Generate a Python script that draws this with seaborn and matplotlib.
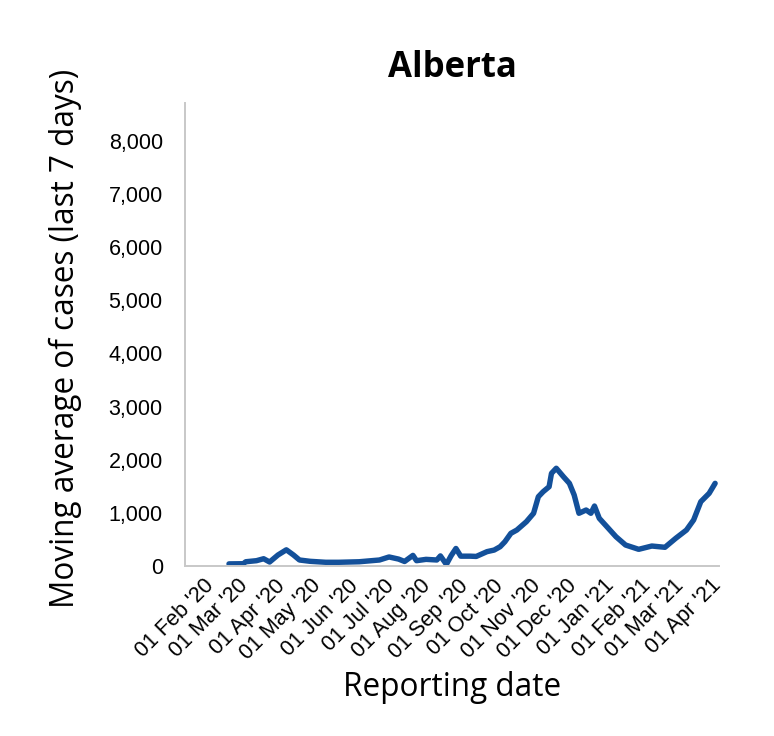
import matplotlib
matplotlib.use("Agg")
import matplotlib.pyplot as plt
import matplotlib.dates as mdates
import matplotlib.transforms as mtransforms
import seaborn as sns
import pandas as pd

dates = ["2020-03-08", "2020-03-20", "2020-03-22", "2020-03-31", "2020-04-06", "2020-04-11",
         "2020-04-18", "2020-04-25", "2020-05-01", "2020-05-06", "2020-05-15", "2020-05-28",
         "2020-06-08", "2020-06-25", "2020-07-12", "2020-07-20", "2020-07-28", "2020-08-02",
         "2020-08-09", "2020-08-12", "2020-08-20", "2020-08-29", "2020-09-01", "2020-09-06",
         "2020-09-10", "2020-09-14", "2020-09-18", "2020-09-26", "2020-10-01", "2020-10-10",
         "2020-10-16", "2020-10-21", "2020-10-25", "2020-10-30", "2020-11-04", "2020-11-12",
         "2020-11-18", "2020-11-22", "2020-11-26", "2020-12-01", "2020-12-03", "2020-12-07",
         "2020-12-13", "2020-12-18", "2020-12-22", "2020-12-26", "2021-01-01", "2021-01-05",
         "2021-01-08", "2021-01-12", "2021-01-20", "2021-01-26", "2021-02-03", "2021-02-14",
         "2021-02-25", "2021-03-08", "2021-03-17", "2021-03-26", "2021-04-01", "2021-04-07",
         "2021-04-14", "2021-04-19"]
cases = [40, 43, 80, 100, 137, 75,
         207, 305, 207, 113, 88, 70,
         70, 80, 113, 170, 130, 85,
         200, 100, 125, 113, 190, 30,
         195, 330, 185, 185, 180, 270,
         300, 363, 457, 615, 677, 834,
         992, 1304, 1398, 1492, 1744, 1840,
         1681, 1556, 1336, 992, 1054, 992,
         1129, 898, 700, 551, 395, 314,
         376, 352, 521, 677, 866, 1210,
         1368, 1556]
y_ticks = [0, 1000, 2000, 3000, 4000, 5000, 6000, 7000, 8000]
x_tick_dates = pd.date_range("2020-02-01", "2021-04-01", freq="MS")

title = "Alberta"
x_label = "Reporting date"
y_label = "Moving average of cases (last 7 days)"

df = pd.DataFrame({"date": pd.to_datetime(dates), "cases": cases})

sns.set_style("white")
plt.rcParams["font.family"] = ["Liberation Sans", "DejaVu Sans"]
plt.rcParams["text.color"] = "black"

W, H = 774, 736
fig = plt.figure(figsize=(W / 100, H / 100), dpi=100)
x0, x1, y0, y1 = 185, 719.3, 103, 566
ax = fig.add_axes([x0 / W, 1 - y1 / H, (x1 - x0) / W, (y1 - y0) / H])

line_color = "#13509a"
sns.lineplot(data=df, x="date", y="cases", ax=ax, color=line_color, linewidth=3.9)

xmin = pd.Timestamp("2020-02-01") - pd.Timedelta(hours=20)
xmax = pd.Timestamp("2021-04-22 12:00")
ax.set_xlim(xmin, xmax)
ax.set_ylim(0, 8715)

grey = "#c8c8c8"
for s in ["top", "right"]:
    ax.spines[s].set_visible(False)
for s in ["left", "bottom"]:
    ax.spines[s].set_color(grey)
    ax.spines[s].set_linewidth(1.4)

ax.set_yticks(y_ticks)
ax.set_yticklabels([f"{v:,}" for v in y_ticks])
ax.set_yticks([8715], minor=True)
ax.set_xticks(x_tick_dates)
ax.set_xticklabels([d.strftime("%d %b '%y") for d in x_tick_dates])
ax.set_xticks([xmax], minor=True)
ax.tick_params(which="both", axis="both", direction="out", length=8, width=1.4,
               color=grey, labelsize=15.5, labelcolor="black")
ax.tick_params(axis="y", pad=8)
ax.tick_params(axis="x", which="major", pad=3)
ax.tick_params(which="minor", labelleft=False, labelbottom=False)

offset = mtransforms.ScaledTranslation(17 / 100, 6 / 100, fig.dpi_scale_trans)
for lbl in ax.get_xticklabels():
    lbl.set_rotation(45)
    lbl.set_ha("right")
    lbl.set_va("top")
    lbl.set_rotation_mode("anchor")
    lbl.set_transform(lbl.get_transform() + offset)

ax.set_xlabel("")
ax.set_ylabel("")
fig.text((x0 + x1) / 2 / W, 1 - 688 / H, x_label, ha="center", va="center",
         fontsize=22.7, color="black", family=["Open Sans", "DejaVu Sans"])
fig.text(65 / W, 1 - 338 / H, y_label, ha="center", va="center", rotation=90,
         fontsize=22.7, color="black", family=["Open Sans", "DejaVu Sans"])
fig.text((x0 + x1) / 2 / W, 1 - 68 / H, title, ha="center", va="center",
         fontsize=25, fontweight="bold", color="black", family=["Open Sans", "DejaVu Sans"])

fig.savefig("out.png", dpi=100, facecolor="white")
